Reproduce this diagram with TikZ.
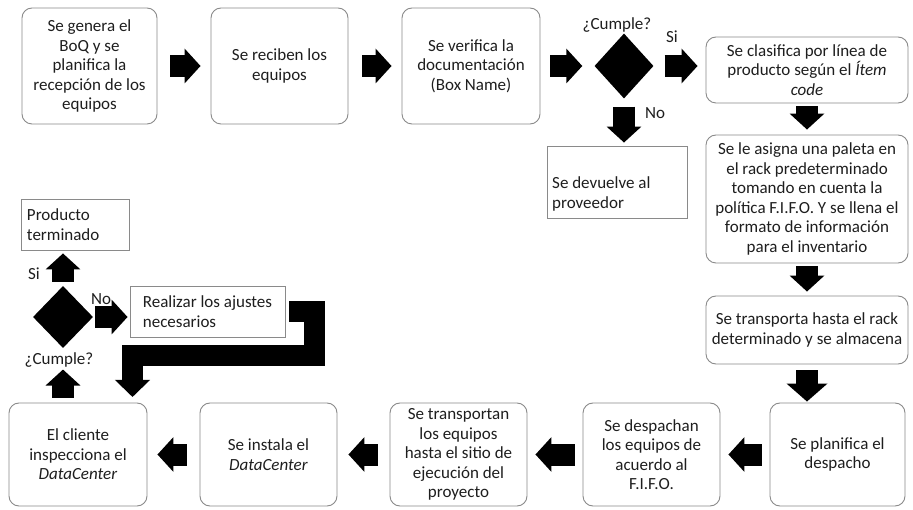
\documentclass[tikz,border=0pt]{standalone}
\usepackage{fontspec}
\setmainfont{Carlito}
\usetikzlibrary{arrows.meta,shapes.geometric}
\definecolor{bord}{HTML}{8A8A8A}
\definecolor{txt}{HTML}{1E1E1E}
\tikzset{
  basefont/.style={font=\fontsize{17}{19.5}\selectfont, text=txt},
  rbox/.style={basefont, draw=bord, line width=0.9pt, rounded corners=10pt, align=center, inner sep=0pt},
  sbox/.style={basefont, draw=bord, line width=0.9pt, align=left, inner xsep=6pt, inner ysep=0pt},
  dec/.style={diamond, fill=black, draw=none, inner sep=0pt},
  lbl/.style={basefont, inner sep=0pt},
  blk/.style={draw=black, line width=22pt, -{Triangle[length=16pt,width=34pt]}},
}
\begin{document}
\begin{tikzpicture}[x=1pt,y=-1pt]
\useasboundingbox[fill=white] (0,0) rectangle (913,510);
% top row
\node[rbox, minimum width=135pt, minimum height=116pt] (b1) at (89.5,66) {Se genera el\\BoQ y se\\planifica la\\recepción de los\\equipos};
\node[rbox, minimum width=137pt, minimum height=116pt] (b2) at (279.5,66) {Se reciben los\\equipos};
\node[rbox, minimum width=138pt, minimum height=116pt] (b3) at (471,66) {Se verifica la\\documentación\\(Box Name)};
\node[dec, minimum width=59pt, minimum height=65pt] (d1) at (624,66) {};
\node[lbl] (c1) at (617,25) {¿Cumple?};
\node[lbl] (si1) at (672,37) {Si};
\node[lbl] (no1) at (655,113) {No};
\node[rbox, minimum width=202pt, minimum height=66pt] (b4) at (807,70) {Se clasifica por línea de\\producto según el \textit{Ítem}\\\textit{code}};
\node[sbox, minimum height=72pt, text width=128pt] (bdev) at (617,182) {};
\node[lbl, anchor=south west, align=left] (bdevt) at (552,211) {Se devuelve al\\proveedor};
\node[rbox, minimum width=202pt, minimum height=128pt] (b5) at (807,199) {Se le asigna una paleta en\\el rack predeterminado\\tomando en cuenta la\\política F.I.F.O. Y se llena el\\formato de información\\para el inventario};
\node[rbox, minimum width=202pt, minimum height=68pt] (b6) at (807,330) {Se transporta hasta el rack\\determinado y se almacena};
% bottom row
\node[rbox, minimum width=135pt, minimum height=103pt] (b7) at (837.5,454.5) {Se planifica el\\despacho};
\node[rbox, minimum width=137pt, minimum height=103pt] (b8) at (651.5,454.5) {Se despachan\\los equipos de\\acuerdo al\\F.I.F.O.};
\node[rbox, minimum width=137pt, minimum height=103pt] (b9) at (458.5,454.5) {Se transportan\\los equipos\\hasta el sitio de\\ejecución del\\proyecto};
\node[rbox, minimum width=137pt, minimum height=103pt] (b10) at (268.5,454.5) {Se instala el\\\textit{DataCenter}};
\node[rbox, minimum width=138pt, minimum height=103pt] (b11) at (78,454.5) {El cliente\\inspecciona el\\\textit{DataCenter}};
% left decision
\node[dec, minimum width=60pt, minimum height=62pt] (d2) at (63,317) {};
\node[lbl] (c2) at (59,360) {¿Cumple?};
\node[lbl] (si2) at (34,274) {Si};
\node[lbl] (no2) at (101,299) {No};
\node[sbox, minimum height=51pt, text width=96pt] (prod) at (75,224.5) {Producto\\terminado};
\node[sbox, minimum height=51pt, minimum width=155pt] (real) at (207.5,311.5) {Realizar los ajustes\\necesarios};
\coordinate (bend) at (314,356);
\coordinate (drop) at (132.5,403);
% arrows
\draw[blk, shorten <=13pt, shorten >=10pt] (b1.east) -- (b2.west);
\draw[blk, shorten <=14pt, shorten >=10pt] (b2.east) -- (b3.west);
\draw[blk, shorten <=10pt, shorten >=12pt] (b3.east) -- (d1.west);
\draw[blk, shorten <=11pt, shorten >=8pt] (d1.east) -- (d1.east -| b4.west);
\draw[blk, shorten <=8pt, shorten >=3pt] (d1.south) -- (d1.south |- bdev.north);
\draw[blk, shorten <=3pt, shorten >=5pt] (b4.south) -- (b5.north);
\draw[blk, shorten <=3pt, shorten >=4pt] (b5.south) -- (b6.north);
\draw[blk, -{Triangle[length=18pt,width=40pt]}, shorten <=6pt, shorten >=1pt] (b6.south) -- (b6.south |- b7.north);
\draw[blk, shorten <=8pt, shorten >=8pt] (b7.west) -- (b8.east);
\draw[blk, shorten <=8pt, shorten >=8pt] (b8.west) -- (b9.east);
\draw[blk, shorten <=12pt, shorten >=11pt] (b9.west) -- (b10.east);
\draw[blk, shorten <=13pt, shorten >=10pt] (b10.west) -- (b11.east);
\draw[blk, shorten <=5pt, shorten >=2pt] (d2.south |- b11.north) -- (d2.south |- c2.south);
\draw[blk, shorten <=4pt, shorten >=3pt] (d2.north) -- (d2.north |- prod.south);
\draw[blk, shorten <=2pt, shorten >=2pt] (d2.east) -- (d2.east -| real.west);
\draw[blk, line width=21pt, line join=miter, -{Triangle[length=17pt,width=34pt]}, shorten <=4pt, shorten >=6pt] (real.east) -| (bend) -| (drop);
\end{tikzpicture}
\end{document}
